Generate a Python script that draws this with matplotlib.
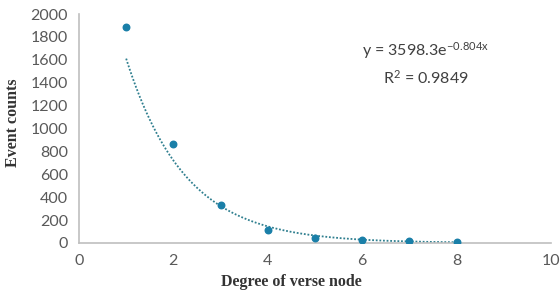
import numpy as np
import matplotlib.pyplot as plt

plt.rcParams['mathtext.fontset'] = 'custom'
plt.rcParams['mathtext.rm'] = 'Lato'
plt.rcParams['mathtext.it'] = 'Lato'

# degree of verse node vs event counts
degree = [1, 2, 3, 4, 5, 6, 7, 8]
event_counts = [1885, 865, 333, 113, 44, 26, 15, 6]

# exponential trend line shown on the chart
fit_a = 3598.3
fit_b = -0.804
r_squared = 0.9849

x_ticks = [0, 2, 4, 6, 8, 10]
y_ticks = [0, 200, 400, 600, 800, 1000, 1200, 1400, 1600, 1800, 2000]

point_color = '#1a7fa8'
trend_color = '#2f7f8f'
tick_color = '#595959'

fig = plt.figure(figsize=(5.6, 2.92), dpi=100)
ax = fig.add_axes([0.141, 0.168, 0.843, 0.784])

# trend line, evaluated over the data range
xs = np.linspace(min(degree), max(degree), 200)
ax.plot(xs, fit_a * np.exp(fit_b * xs), linestyle=(0, (1, 1)), color=trend_color, linewidth=1.3)

ax.scatter(degree, event_counts, s=22, color=point_color, zorder=3)

ax.set_xlim(0, 10)
ax.set_ylim(0, 2000)
ax.set_xticks(x_ticks)
ax.set_yticks(y_ticks)
ax.tick_params(length=0, labelsize=11.5, colors=tick_color, pad=8)
for lab in ax.get_xticklabels() + ax.get_yticklabels():
    lab.set_family('Lato')

for side in ['top', 'right']:
    ax.spines[side].set_visible(False)
for side in ['left', 'bottom']:
    ax.spines[side].set_color('#bfbfbf')
    ax.spines[side].set_linewidth(1.2)

ax.set_xlabel('Degree of verse node', family='Liberation Serif', fontweight='bold',
              fontsize=11.5, color='#333333', va='center')
ax.xaxis.set_label_coords(0.45, -0.172)
ax.set_ylabel('Event counts', family='Liberation Serif', fontweight='bold',
              fontsize=11.5, color='#333333', va='center')
ax.yaxis.set_label_coords(-0.14, 0.525)

ax.text(0.735, 0.84, f'y = {fit_a}e$^{{{fit_b}x}}$', transform=ax.transAxes, ha='center',
        va='center', fontsize=11.5, family='Lato', color='#404040')
ax.text(0.735, 0.72, f'R$^2$ = {r_squared}', transform=ax.transAxes, ha='center',
        va='center', fontsize=11.5, family='Lato', color='#404040')

fig.savefig('out.png', dpi=100)
